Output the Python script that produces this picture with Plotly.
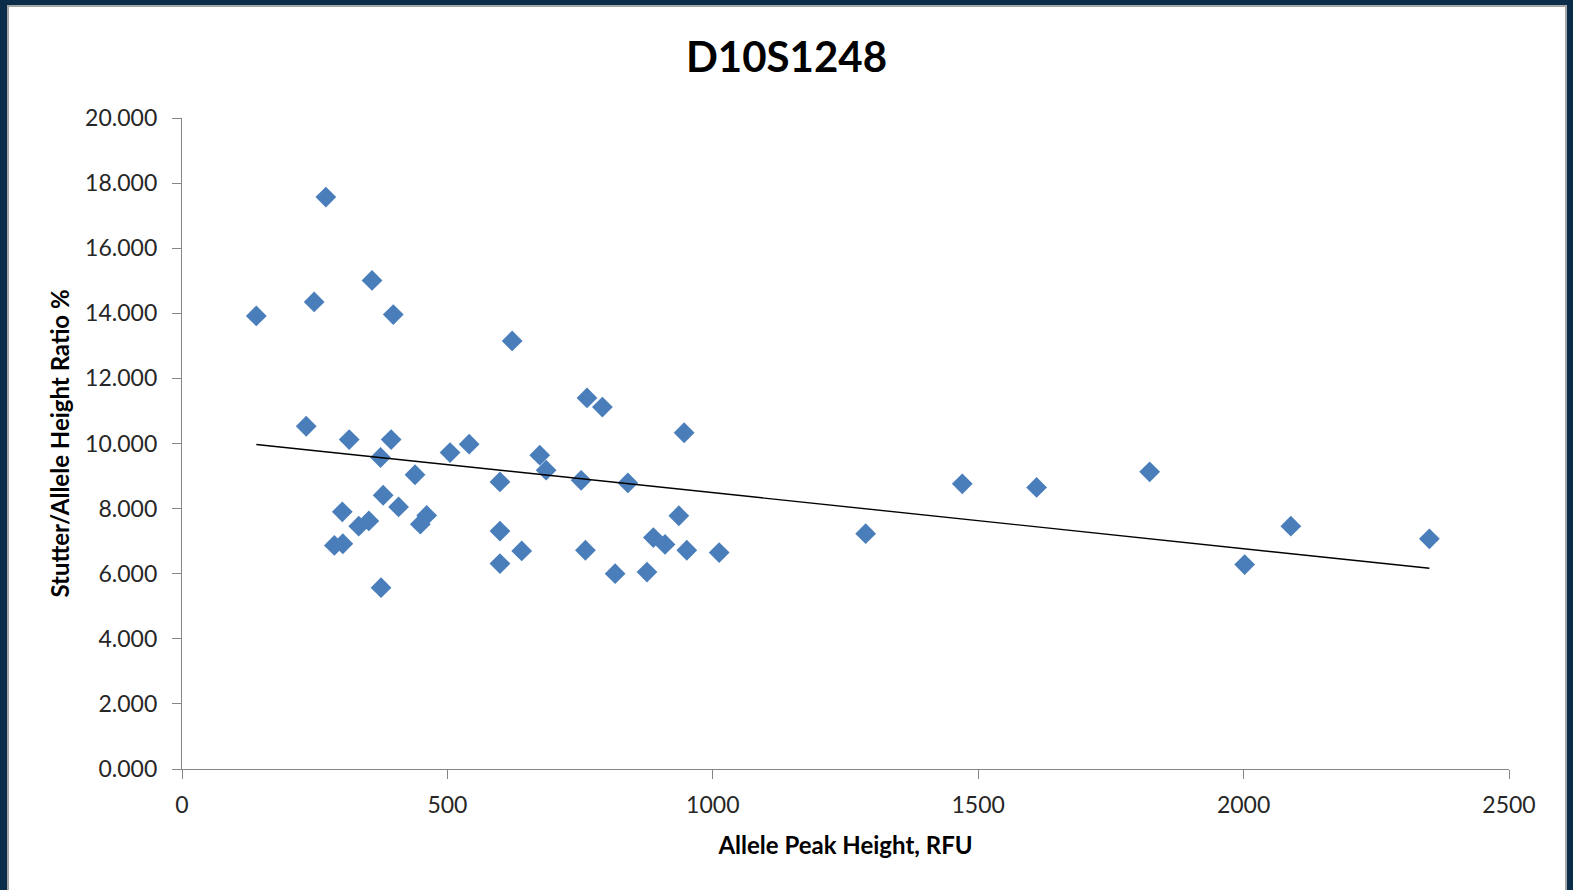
import numpy as np
import plotly.graph_objects as go

# Allele peak height (RFU) and stutter/allele height ratio (%) for D10S1248
peak_height = [140, 271, 249, 358, 398, 622, 234, 315, 394, 374,
               505, 541, 674, 763, 792, 946, 439, 686, 599, 752,
               840, 379, 408, 461, 449, 352, 333, 302, 287, 303,
               375, 599, 599, 640, 760, 816, 876, 936, 888, 910,
               951, 1012, 1288, 1470, 1610, 1823, 2002, 2089, 2350]
stutter_ratio = [13.92, 17.57, 14.35, 15.01, 13.96, 13.15, 10.53, 10.12, 10.12, 9.57,
                 9.72, 9.98, 9.64, 11.40, 11.12, 10.33, 9.04, 9.18, 8.82, 8.87,
                 8.79, 8.41, 8.05, 7.79, 7.52, 7.62, 7.46, 7.90, 6.87, 6.92,
                 5.57, 7.31, 6.31, 6.70, 6.72, 6.00, 6.05, 7.78, 7.11, 6.90,
                 6.72, 6.65, 7.23, 8.76, 8.65, 9.13, 6.28, 7.46, 7.07]

x_ticks = [0, 500, 1000, 1500, 2000, 2500]
y_ticks = [0, 2, 4, 6, 8, 10, 12, 14, 16, 18, 20]

# Linear least-squares trendline over the data range
slope, intercept = np.polyfit(peak_height, stutter_ratio, 1)
trend_x = [min(peak_height), max(peak_height)]
trend_y = [slope * v + intercept for v in trend_x]

FONT = "Lato"
W, H = 1573, 890
ML, MR, MT, MB = 182, 64, 118, 121
PW, PH = W - ML - MR, H - MT - MB

def px_to_paper_x(px):
    return (px - ML) / PW

def px_to_paper_y(py):
    return (H - MB - py) / PH

fig = go.Figure()
fig.add_trace(go.Scatter(
    x=peak_height, y=stutter_ratio, mode="markers",
    marker=dict(symbol="diamond", size=16, color="#4a7ebb", line=dict(width=0)),
    showlegend=False, hoverinfo="x+y",
))
fig.add_trace(go.Scatter(
    x=trend_x, y=trend_y, mode="lines",
    line=dict(color="#000000", width=1.4),
    showlegend=False, hoverinfo="skip",
))

axis_common = dict(
    showgrid=False, zeroline=False, showline=True,
    linecolor="#868686", linewidth=1.3,
    ticks="outside", ticklen=9, tickwidth=1.3, tickcolor="#868686",
    tickfont=dict(family=FONT, size=23, color="#262626"),
)

fig.update_layout(
    width=W, height=H,
    margin=dict(l=ML, r=MR, t=MT, b=MB, pad=0),
    paper_bgcolor="#0b2d4a",
    plot_bgcolor="rgba(0,0,0,0)",
    title=dict(text="<b>D10S1248</b>", x=0.5, xref="container", xanchor="center",
               y=1 - 57 / H, yref="container", yanchor="middle",
               font=dict(family=FONT, size=42, color="#000000")),
    xaxis=dict(range=[0, 2500], tickvals=x_ticks, ticktext=[str(v) for v in x_ticks],
               title=dict(text="<b>Allele Peak Height, RFU</b>", standoff=20,
                          font=dict(family=FONT, size=24, color="#000000")),
               ticklabelstandoff=6, **axis_common),
    yaxis=dict(range=[0, 20], tickvals=y_ticks, tickformat=".3f",
               title=dict(text="<b>Stutter/Allele Height Ratio %</b>", standoff=8,
                          font=dict(family=FONT, size=24, color="#000000")),
               ticklabelstandoff=10, **axis_common),
    shapes=[dict(
        type="rect", xref="paper", yref="paper", layer="below",
        x0=px_to_paper_x(8), x1=px_to_paper_x(1566),
        y0=px_to_paper_y(H + 20), y1=px_to_paper_y(6),
        fillcolor="#ffffff", line=dict(color="#a6a6a6", width=2),
    )],
)

fig.write_html("out.html")
